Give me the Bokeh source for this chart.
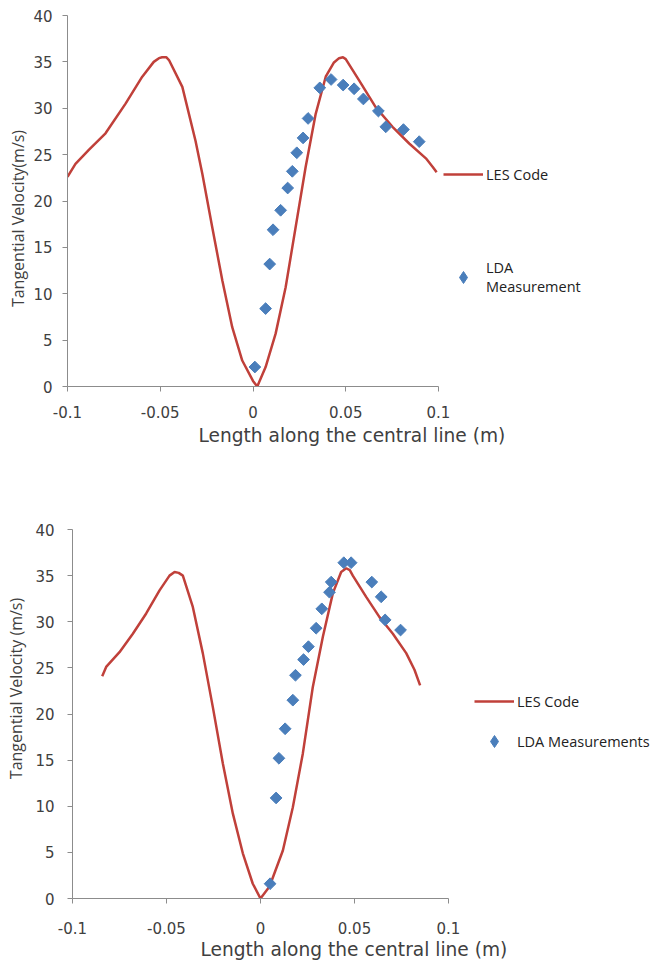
import numpy as np
from bokeh.plotting import figure
from bokeh.layouts import column, row
from bokeh.models import Range1d, FixedTicker, Legend, LegendItem, Title, Label
from bokeh.embed import file_html
from bokeh.resources import INLINE

# ---------------- data ----------------
x_ticks = [-0.1, -0.05, 0, 0.05, 0.1]
x_tick_labels = ["-0.1", "-0.05", "0", "0.05", "0.1"]
y_ticks = [0, 5, 10, 15, 20, 25, 30, 35, 40]

# Chart 1: LES code curve
les1_x = [-0.1, -0.0957, -0.0885, -0.0795, -0.0687, -0.0597, -0.0535, -0.0507, -0.049, -0.0468, -0.0453, -0.0381,
          -0.031, -0.0273, -0.022, -0.0165, -0.0112, -0.0058, 0.0, 0.0023, 0.0068, 0.0122,
          0.0176, 0.023, 0.0284, 0.0338, 0.0392, 0.0435, 0.0464, 0.0485, 0.05, 0.0572, 0.0662, 0.0752,
          0.0842, 0.0932, 0.0968, 0.099]
les1_y = [22.6, 24.0, 25.5, 27.3, 30.5, 33.4, 35.0, 35.4, 35.5, 35.5, 35.2, 32.3,
          26.5, 22.9, 17.2, 11.4, 6.4, 2.8, 0.6, 0.0, 2.1, 5.7,
          10.7, 17.2, 23.7, 29.4, 33.4, 34.9, 35.4, 35.5, 35.3, 33.0, 30.1, 28.0,
          26.2, 24.6, 23.7, 23.1]
# Chart 1: LDA measurement
lda1_x = [0.001, 0.0068, 0.009, 0.0108, 0.0149, 0.0187, 0.0212, 0.0236, 0.027, 0.0297,
          0.036, 0.0421, 0.0486, 0.0545, 0.0595, 0.0676, 0.0716, 0.0811, 0.0896]
lda1_y = [2.1, 8.4, 13.2, 16.9, 19.0, 21.4, 23.2, 25.2, 26.8, 28.9,
          32.2, 33.1, 32.5, 32.1, 31.0, 29.7, 28.0, 27.7, 26.4]

# Chart 2: LES code curve
les2_x = [-0.0842, -0.0821, -0.075, -0.0679, -0.0608, -0.0537, -0.0484, -0.0457, -0.0435, -0.0413, -0.036,
          -0.0307, -0.0254, -0.02, -0.0147, -0.0094, -0.0041, 0.0, 0.0048, 0.0119, 0.0172,
          0.0225, 0.0278, 0.0332, 0.0385, 0.0429, 0.0456, 0.0475, 0.0491, 0.0562, 0.0633, 0.0704,
          0.0775, 0.0819, 0.0849]
les2_y = [24.1, 25.1, 26.7, 28.7, 30.9, 33.4, 35.0, 35.4, 35.3, 35.0, 31.6,
          26.6, 20.8, 14.6, 9.2, 4.9, 1.6, 0.0, 1.3, 5.2, 9.9,
          15.7, 22.9, 28.4, 33.1, 35.4, 35.8, 35.6, 35.0, 32.7, 30.5, 28.7,
          26.6, 24.8, 23.1]
# Chart 2: LDA measurements
lda2_x = [0.0051, 0.0083, 0.0098, 0.0131, 0.0172, 0.0186, 0.0229, 0.0255, 0.0296, 0.0326,
          0.0367, 0.0376, 0.0443, 0.0482, 0.0592, 0.0642, 0.0663, 0.0745]
lda2_y = [1.6, 10.9, 15.2, 18.4, 21.5, 24.2, 25.9, 27.3, 29.3, 31.4,
          33.2, 34.3, 36.4, 36.4, 34.3, 32.7, 30.2, 29.1]

LINE_COLOR = "#C0403A"
DOT_COLOR = "#4A7EBB"
TICK_FONT = "DejaVu Sans"
FONT = "Open Sans"
TEXT_COLOR = "#404040"
TITLE_W = 30


def ytitle_fig(text, height, cx, cy_from_frame_bottom):
    # narrow companion figure holding the rotated y-axis title
    # (its frame is aligned with the chart's frame by the row layout)
    t = figure(output_backend="svg", toolbar_location=None, width=TITLE_W, height=height,
               min_border=0, x_axis_location=None, y_axis_location=None,
               x_range=Range1d(0, 1), y_range=Range1d(0, 1))
    t.outline_line_color = None
    t.grid.visible = False
    t.add_layout(Label(x=cx, y=cy_from_frame_bottom, x_units="screen", y_units="screen",
                       text=text, angle=np.pi / 2, text_align="center", text_baseline="middle",
                       text_font=FONT, text_font_size="16px", text_color=TEXT_COLOR))
    return t


def make_chart(les_x, les_y, lda_x, lda_y, border, frame, lda_label, stand,
               xtitle, legend_loc, legend_spacing, legend_line_height):
    left, right, top, bottom = border
    fw, fh = frame
    p = figure(output_backend="svg", toolbar_location=None,
               frame_width=fw, frame_height=fh,
               min_border_left=left, min_border_right=right,
               min_border_top=top, min_border_bottom=bottom,
               x_range=Range1d(-0.1, 0.1), y_range=Range1d(0, 40))
    p.outline_line_color = None
    p.grid.visible = False
    p.background_fill_color = "white"
    p.border_fill_color = "white"

    for ax in (p.xaxis[0], p.yaxis[0]):
        ax.axis_line_color = "#8c8c8c"
        ax.major_tick_line_color = "#8c8c8c"
        ax.major_tick_out = 5
        ax.major_tick_in = 0
        ax.minor_tick_line_color = None
        ax.major_label_text_font = TICK_FONT
        ax.major_label_text_font_size = "15px"
        ax.major_label_text_color = TEXT_COLOR
    p.xaxis[0].ticker = FixedTicker(ticks=x_ticks)
    p.xaxis[0].major_label_overrides = {t: s for t, s in zip(x_ticks, x_tick_labels)}
    p.xaxis[0].major_label_standoff = stand[0]
    p.yaxis[0].ticker = FixedTicker(ticks=y_ticks)
    p.yaxis[0].major_label_standoff = stand[1]

    r_line = p.line(les_x, les_y, line_color=LINE_COLOR, line_width=2.5)
    p.scatter(lda_x, lda_y, marker="square", angle=np.pi / 4, size=8.3,
              fill_color=DOT_COLOR, line_color=DOT_COLOR)
    # legend swatch for the measurement series (diamond marker, nothing plotted)
    r_key = p.scatter([np.nan], [np.nan], marker="diamond", size=13,
                      fill_color=DOT_COLOR, line_color=DOT_COLOR)

    lg = Legend(items=[LegendItem(label="LES Code", renderers=[r_line]),
                       LegendItem(label=lda_label, renderers=[r_key])],
                location=legend_loc, spacing=legend_spacing,
                border_line_color=None, background_fill_alpha=0, padding=0, margin=0,
                glyph_width=40, glyph_height=30, label_height=16, label_standoff=3,
                label_text_font=FONT, label_text_font_size="14.5px",
                label_text_color="#222222", label_text_line_height=legend_line_height)
    p.add_layout(lg, "right")

    xt, x_off, x_stand = xtitle
    p.add_layout(Title(text=xt, align="left", offset=x_off, standoff=x_stand,
                       text_font=TICK_FONT, text_font_size="18.6px", text_color=TEXT_COLOR,
                       text_font_style="normal"), "below")
    return p


p1 = make_chart(les1_x, les1_y, lda1_x, lda1_y,
                border=(67 - TITLE_W, 227, 15, 94), frame=(371, 371),
                lda_label="LDA\nMeasurement", stand=(14, 10),
                xtitle=("Length along the central line (m)", 131, 5),
                legend_loc=(5, 90), legend_spacing=69, legend_line_height=1.55)
t1 = ytitle_fig("Tangential Velocity(m/s)", 480, 17, 168)

p2 = make_chart(les2_x, les2_y, lda2_x, lda2_y,
                border=(72 - TITLE_W, 217, 49, 66), frame=(376, 369),
                lda_label="LDA Measurements", stand=(18, 13),
                xtitle=("Length along the central line (m)", 128, 0),
                legend_loc=(26, 142), legend_spacing=10, legend_line_height=1.2)
t2 = ytitle_fig("Tangential Velocity (m/s)", 484, 15, 210)

layout = column(row(t1, p1), row(t2, p2))
open("out.html", "w").write(file_html(layout, INLINE))
